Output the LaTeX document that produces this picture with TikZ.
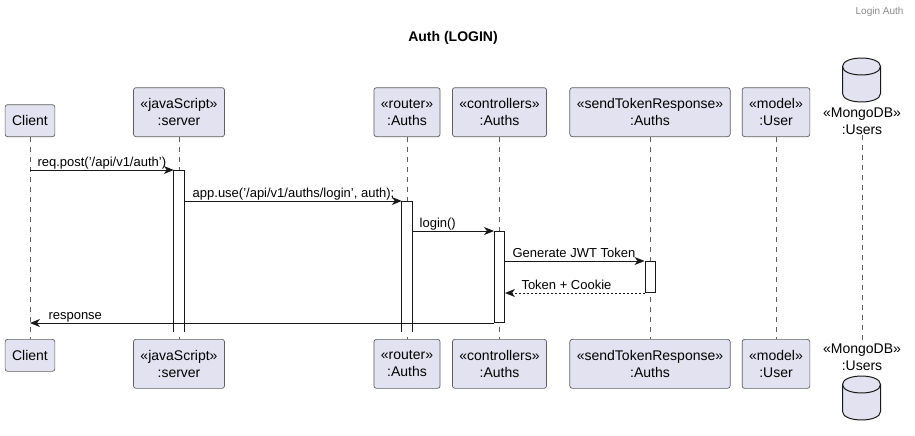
\documentclass[tikz,border=0pt]{standalone}
\usepackage{fontspec}
\setmainfont{Liberation Sans}
\usepackage{tikz}
\usetikzlibrary{arrows.meta, positioning}
\usepackage{xcolor}
\definecolor{partfill}{HTML}{E2E2F0}
\definecolor{partline}{HTML}{5F5F5F}
\definecolor{msgline}{HTML}{181818}
\definecolor{headgray}{HTML}{888888}
\tikzset{%
	participant/.style={
		draw=partline,
		fill=partfill,
		line width=0.7pt,
		rounded corners=2.5pt,
		align=center,
		inner xsep=7pt,
		inner ysep=0pt,
		minimum height=49pt,
		font=\fontsize{14}{17}\selectfont
	},
	dbname/.style={
		align=center,
		inner sep=0pt,
		font=\fontsize{14}{17}\selectfont
	},
	dbshape/.style={draw=msgline, fill=partfill, line width=1pt},
	lifeline/.style={draw=partline, line width=0.7pt, dash pattern=on 5pt off 5pt},
	actbox/.style={fill=white, minimum width=10pt, inner sep=0pt, anchor=north},
	actline/.style={draw=msgline, line width=1pt},
	message/.style={draw=msgline, line width=1pt, -{Stealth[length=10pt, width=8pt, inset=3pt]}},
	reply/.style={message, dash pattern=on 2pt off 2pt},
	msglabel/.style={inner sep=0pt, anchor=base west, font=\fontsize{13}{15}\selectfont},
}

\begin{document}
\begin{tikzpicture}[x=1pt, y=-1pt]
	\useasboundingbox (0,0) rectangle (915,436);

	% Header and title
	\node[anchor=east, text=headgray, font=\fontsize{10}{12}\selectfont] (header) at (907,12) {Login Auth};
	\node[font=\bfseries\fontsize{14}{17}\selectfont] (title) at (453,38) {Auth (LOGIN)};

	% Draw participants (top)
	\node[participant, anchor=south, minimum height=32pt] (client) at (30,137) {Client};
	\node[participant, anchor=south] (server) at (179,137) {«javaScript»\\:server};
	\node[participant, anchor=south] (router) at (407,137) {«router»\\:Auths};
	\node[participant, anchor=south] (ctrl) at (499.5,137) {«controllers»\\:Auths};
	\node[participant, anchor=south] (tokresp) at (650,137) {«sendTokenResponse»\\:Auths};
	\node[participant, anchor=south] (model) at (776,137) {«model»\\:User};
	\node[dbname] (mongo) at (862,121) {«MongoDB»\\:Users};
	\draw[dbshape] (842.5,66.5) -- (842.5,93.5) .. controls (842.5,104.8) and (880.5,104.8) .. (880.5,93.5)
		-- (880.5,66.5) .. controls (880.5,55.2) and (842.5,55.2) .. (842.5,66.5) -- cycle;
	\draw[actline] (842.5,66.5) .. controls (842.5,77.8) and (880.5,77.8) .. (880.5,66.5);

	% Draw participants (bottom)
	\node[participant, anchor=north, minimum height=32pt] (clientB) at (30,339) {Client};
	\node[participant, anchor=north] (serverB) at (179,339) {«javaScript»\\:server};
	\node[participant, anchor=north] (routerB) at (407,339) {«router»\\:Auths};
	\node[participant, anchor=north] (ctrlB) at (499.5,339) {«controllers»\\:Auths};
	\node[participant, anchor=north] (tokrespB) at (650,339) {«sendTokenResponse»\\:Auths};
	\node[participant, anchor=north] (modelB) at (776,339) {«model»\\:User};
	\node[dbname] (mongoB) at (862,357.5) {«MongoDB»\\:Users};
	\draw[dbshape] (842.5,384.5) -- (842.5,411.5) .. controls (842.5,422.8) and (880.5,422.8) .. (880.5,411.5)
		-- (880.5,384.5) .. controls (880.5,373.2) and (842.5,373.2) .. (842.5,384.5) -- cycle;
	\draw[actline] (842.5,384.5) .. controls (842.5,395.8) and (880.5,395.8) .. (880.5,384.5);

	% Lifelines
	\draw[lifeline] (client.south) -- (clientB.north);
	\draw[lifeline] (server.south) -- (serverB.north);
	\draw[lifeline] (router.south) -- (routerB.north);
	\draw[lifeline] (ctrl.south) -- (ctrlB.north);
	\draw[lifeline] (tokresp.south) -- (tokrespB.north);
	\draw[lifeline] (model.south) -- (modelB.north);
	\draw[lifeline] (mongo.south) -- (mongoB.north);

	% Activation bars
	\node[actbox, minimum height=162pt] (actServer) at (179,170) {};
	\draw[actline] (actServer.south west) -- (actServer.north west) -- (actServer.north east) -- (actServer.south east);
	\node[actbox, minimum height=131pt] (actRouter) at (407,201) {};
	\draw[actline] (actRouter.south west) -- (actRouter.north west) -- (actRouter.north east) -- (actRouter.south east);
	\node[actbox, actline, minimum height=91pt] (actCtrl) at (499.5,231) {};
	\node[actbox, actline, minimum height=31pt] (actTok) at (650,261) {};

	% Messages
	\draw[message] (client.south |- actServer.north) -- (actServer.north west)
		node[msglabel, pos=0, xshift=7pt, yshift=3.5pt] {req.post('/api/v1/auth')};
	\draw[message] (actServer.east |- actRouter.north) -- (actRouter.north west)
		node[msglabel, pos=0, xshift=8pt, yshift=3.5pt] {app.use('/api/v1/auths/login', auth);};
	\draw[message] (actRouter.east |- actCtrl.north) -- (actCtrl.north west)
		node[msglabel, pos=0, xshift=7pt, yshift=3.5pt] {login()};
	\draw[message] (actCtrl.east |- actTok.north) -- (actTok.north west)
		node[msglabel, pos=0, xshift=7pt, yshift=3.5pt] {Generate JWT Token};
	\draw[reply] (actTok.south west) -- (actCtrl.east |- actTok.south)
		node[msglabel, pos=1, xshift=16pt, yshift=3.5pt] {Token + Cookie};
	\draw[message] (actCtrl.south west) -- (client.south |- actCtrl.south)
		node[msglabel, pos=1, xshift=18pt, yshift=3.5pt] {response};
\end{tikzpicture}
\end{document}
